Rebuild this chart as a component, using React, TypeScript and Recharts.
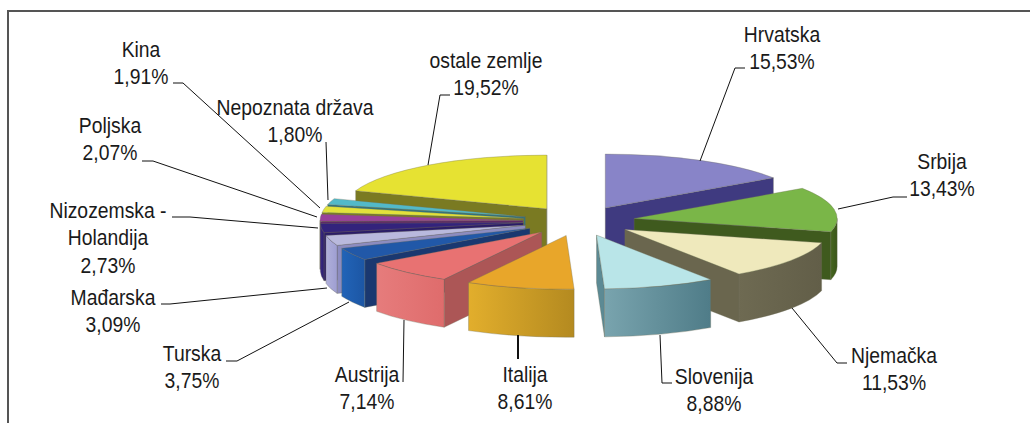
import { PieChart, Pie } from "recharts";

const categories = [
  "Hrvatska", "Srbija", "Njemačka", "Slovenija", "Italija", "Austrija", "Turska",
  "Mađarska", "Nizozemska -\nHolandija", "Poljska", "Kina", "Nepoznata država", "ostale zemlje",
];
const shares = [15.53, 13.43, 11.53, 8.88, 8.61, 7.14, 3.75, 3.09, 2.73, 2.07, 1.91, 1.8, 19.52];

const tableData = categories.map((name, i) => ({ name, value: shares[i] }));

// back to front, the pie is faked 3D so the painter order matters
const drawOrder = [12, 0, 11, 10, 9, 8, 1, 7, 6, 2, 5, 3, 4];

const topColors = ["#8884c8", "#7ab648", "#efe9bc", "#b9e5e8", "#e8a62a", "#e87272", "#2158a8", "#b9b9dd", "#33237c", "#98409a", "#e2e23c", "#52b9c9", "#e6e232"];
const wallColors = ["#3f3a80", "#3f5a1e", "#6a664e", "#5c8a94", "#c08f24", "#ac5656", "#1a3870", "#8c8cc0", "#2a1c68", "#5e2a66", "#7c7c22", "#2e7480", "#7a7a22"];
const rimFrom = ["#3f3a80", "#46661f", "#6e6a52", "#79a4ae", "#e2ae2c", "#e67c7c", "#2264b8", "#b0b0da", "#3a2a84", "#6e3078", "#8a8a28", "#3a8a98", "#7a7a22"];
const rimTo = ["#3f3a80", "#3a551a", "#625e48", "#4f7c88", "#b48a20", "#df6c6c", "#1c56a4", "#9e9ed2", "#2c1e6e", "#5e2a66", "#7c7c22", "#2e7480", "#7a7a22"];

const CX = 579;
const CY = 221;
const RX = 203;
const TILT = 0.265;
const EXPLODE = 56;
const DEPTH = 48;

// label layout: text centre, first baseline, leader points
const labelLayout = [
  { x: 782, y: 42, pts: [[745, 68], [735, 68], [700, 161]] },
  { x: 942, y: 169, pts: [[907, 197], [893, 197], [838, 209]] },
  { x: 894, y: 363, pts: [[847, 363], [837, 363], [792, 308]] },
  { x: 714, y: 384, pts: [[672, 383], [662, 383], [660, 335]] },
  { x: 525, y: 382, w: 2, pts: [[518, 359], [518, 335]] },
  { x: 367, y: 382, pts: [[403, 382], [404, 320]] },
  { x: 192, y: 361, pts: [[226, 361], [237, 361], [349, 302]] },
  { x: 113, y: 305, pts: [[161, 304], [170, 304], [327, 288]] },
  { x: 108, y: 218, pts: [[172, 217], [190, 217], [318, 228]] },
  { x: 110, y: 133, pts: [[142, 161], [153, 161], [317, 217]] },
  { x: 141, y: 57, pts: [[173, 83], [183, 83], [320, 208]] },
  { x: 295, y: 115, pts: [[326, 142], [328, 200]] },
  { x: 486, y: 68, pts: [[450, 95], [440, 95], [428, 165]] },
];

const rad = (deg: number) => (deg * Math.PI) / 180;

function makeSlice(target: number) {
  return function Slice(props: any) {
    const idx = categories.indexOf(props.name);
    if (idx !== target) return <g />;
    const { startAngle, endAngle, outerRadius } = props;
    const r = outerRadius;
    const ry = r * TILT;
    // recharts angles run counter clockwise from east, startAngle > endAngle here
    const mid = (startAngle + endAngle) / 2;
    const ox = CX + EXPLODE * Math.cos(rad(mid));
    const oy = CY - EXPLODE * TILT * Math.sin(rad(mid));
    const pt = (a: number, d = 0) => [ox + r * Math.cos(rad(a)), oy - ry * Math.sin(rad(a)) + d];
    const stroke = "rgba(110,110,90,0.55)";

    const wall = (a: number) => {
      const [x, y] = pt(a);
      return (
        <polygon
          points={`${ox},${oy} ${x},${y} ${x},${y + DEPTH} ${ox},${oy + DEPTH}`}
          fill={wallColors[idx]}
          stroke={stroke}
          strokeWidth={0.6}
        />
      );
    };

    // only the part of the rim under the horizontal axis faces the viewer
    const rimStart = Math.max(endAngle, -180);
    const rimEnd = Math.min(startAngle, 0);
    let rim = null;
    if (rimEnd > rimStart) {
      const [x1, y1] = pt(rimEnd);
      const [x2, y2] = pt(rimStart);
      const large = rimEnd - rimStart > 180 ? 1 : 0;
      rim = (
        <path
          d={`M${x1},${y1} A${r},${ry} 0 ${large} 1 ${x2},${y2} L${x2},${y2 + DEPTH} A${r},${ry} 0 ${large} 0 ${x1},${y1 + DEPTH} Z`}
          fill={`url(#rim${idx})`}
          stroke={stroke}
          strokeWidth={0.6}
        />
      );
    }

    const [sx, sy] = pt(startAngle);
    const [ex, ey] = pt(endAngle);
    const large = startAngle - endAngle > 180 ? 1 : 0;
    const norm = (a: number) => ((a % 360) + 360) % 360;
    // clock angle of each edge decides which cut wall can be seen
    const clockStart = norm(90 - startAngle);
    const clockEnd = norm(90 - endAngle);

    return (
      <g>
        {clockStart > 180 && wall(startAngle)}
        {clockEnd < 180 && wall(endAngle)}
        {rim}
        <path
          d={`M${ox},${oy} L${sx},${sy} A${r},${ry} 0 ${large} 1 ${ex},${ey} Z`}
          fill={topColors[idx]}
          stroke={stroke}
          strokeWidth={0.6}
        />
      </g>
    );
  };
}

function renderLabel(props: any) {
  const idx = categories.indexOf(props.name);
  const layout = labelLayout[idx];
  const rows = [...categories[idx].split("\n"), shares[idx].toFixed(2).replace(".", ",") + "%"];
  return (
    <g key={categories[idx]}>
      <polyline points={layout.pts.map((p) => p.join(",")).join(" ")} fill="none" stroke="#111" strokeWidth={layout.w ?? 1} />
      {rows.map((row, i) => (
        <text
          key={row}
          transform={`translate(${layout.x},${layout.y + i * 27.3}) scale(0.86,1)`}
          textAnchor="middle"
          fontFamily="Liberation Sans, Arial, sans-serif"
          fontSize={22.5}
          fill="#1a1a1a"
        >
          {row}
        </text>
      ))}
    </g>
  );
}

export default function App() {
  return (
    <div style={{ position: "absolute", left: 0, top: 0, width: 1030, height: 423, background: "#fff", overflow: "hidden" }}>
      <div style={{ position: "absolute", left: 7, top: 10, right: 0, bottom: 0, borderTop: "2px solid #555", borderLeft: "2px solid #555" }} />
      <div style={{ position: "absolute", left: 0, top: 0 }}>
        <PieChart width={1030} height={423} margin={{ top: 0, right: 0, bottom: 0, left: 0 }}>
          <defs>
            {rimFrom.map((c, i) => (
              <linearGradient key={i} id={`rim${i}`} x1="0" y1="0" x2="1" y2="0">
                <stop offset="0%" stopColor={c} />
                <stop offset="100%" stopColor={rimTo[i]} />
              </linearGradient>
            ))}
          </defs>
          {drawOrder.map((i) => (
            <Pie
              key={i}
              data={tableData}
              dataKey="value"
              nameKey="name"
              cx={CX}
              cy={CY}
              outerRadius={RX}
              startAngle={90}
              endAngle={-270}
              shape={makeSlice(i)}
              isAnimationActive={false}
            />
          ))}
          <Pie
            data={tableData}
            dataKey="value"
            nameKey="name"
            cx={CX}
            cy={CY}
            outerRadius={RX}
            startAngle={90}
            endAngle={-270}
            shape={() => <g />}
            label={renderLabel}
            labelLine={false}
            isAnimationActive={false}
          />
        </PieChart>
      </div>
    </div>
  );
}
